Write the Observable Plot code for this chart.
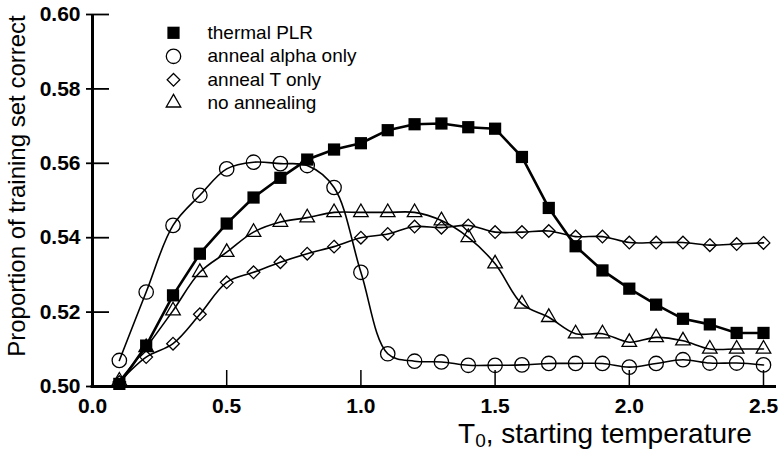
<!DOCTYPE html>
<html>
<head>
<meta charset="utf-8">
<script src="https://cdn.jsdelivr.net/npm/d3@7"></script>
<script src="https://cdn.jsdelivr.net/npm/@observablehq/plot@0.6"></script>
<style>
  body { margin: 0; background: #fff; }
  #chart svg { display: block; }
</style>
</head>
<body>
<div id="chart"></div>
<script>
// ---- data ----
const temps = [0.1,0.2,0.3,0.4,0.5,0.6,0.7,0.8,0.9,1.0,1.1,1.2,1.3,1.4,1.5,1.6,1.7,1.8,1.9,2.0,2.1,2.2,2.3,2.4,2.5];
const thermalPLR      = [0.5007,0.5110,0.5245,0.5357,0.5438,0.5508,0.5561,0.5610,0.5637,0.5654,0.5689,0.5705,0.5707,0.5697,0.5693,0.5617,0.5480,0.5377,0.5312,0.5263,0.5220,0.5182,0.5167,0.5144,0.5144];
const annealAlphaOnly = [0.5070,0.5254,0.5433,0.5514,0.5585,0.5603,0.5599,0.5594,0.5535,0.5307,0.5088,0.5068,0.5066,0.5057,0.5057,0.5058,0.5062,0.5062,0.5062,0.5052,0.5062,0.5072,0.5063,0.5063,0.5058];
const annealTOnly     = [0.5012,0.5079,0.5115,0.5194,0.5280,0.5307,0.5334,0.5357,0.5376,0.5400,0.5410,0.5430,0.5427,0.5433,0.5415,0.5415,0.5418,0.5403,0.5403,0.5387,0.5387,0.5387,0.5380,0.5383,0.5386];
const noAnnealing     = [0.5015,0.5105,0.5204,0.5307,0.5361,0.5415,0.5442,0.5454,0.5468,0.5468,0.5468,0.5468,0.5446,0.5401,0.5330,0.5222,0.5186,0.5142,0.5142,0.5119,0.5132,0.5123,0.5101,0.5101,0.5101];
const seriesNames = ["thermal PLR", "anneal alpha only", "anneal T only", "no annealing"];
const xTicks = [0.0, 0.5, 1.0, 1.5, 2.0, 2.5];
const yTicks = [0.50, 0.52, 0.54, 0.56, 0.58, 0.60];
const xLabelMain = "T", xLabelSub = "0", xLabelRest = ", starting temperature";
const yLabel = "Proportion of training set correct";

// ---- layout / styles ----
const W = 778, H = 453, mL = 92, mR = 15, mT = 14, mB = 67;
const plotW = W - mL - mR, plotH = H - mT - mB;
const font = "'Liberation Sans', Arial, Helvetica, sans-serif";

const styles = [
  {values: thermalPLR,      symbol: "square",   fill: "black", stroke: "none",  r: 6.9, lw: 2.6, curve: "linear"},
  {values: annealAlphaOnly, symbol: "circle",   fill: "none",  stroke: "black", r: 7.2, lw: 1.6, curve: "catmull-rom"},
  {values: annealTOnly,     symbol: "diamond2", fill: "none",  stroke: "black", r: 5.7, lw: 1.6, curve: "catmull-rom"},
  {values: noAnnealing,     symbol: "triangle", fill: "none",  stroke: "black", r: 5.4, lw: 1.6, curve: "catmull-rom"}
];
const rows = vals => temps.map((t, i) => ({t, v: vals[i]}));

const marks = [];
// open series first, squares last (on top)
for (const i of [3, 2, 1, 0]) {
  const s = styles[i];
  const data = rows(s.values);
  marks.push(Plot.line(data, {x: "t", y: "v", stroke: "black", strokeWidth: s.lw, curve: s.curve}));
  marks.push(Plot.dot(data, {x: "t", y: "v", symbol: () => s.symbol, r: s.r, fill: s.fill, stroke: s.stroke, strokeWidth: 1.3}));
}

// legend (inside plot, top-left)
const legendDy = [18.3, 41.8, 65.3, 88.3];
seriesNames.forEach((name, i) => {
  const s = styles[i];
  marks.push(Plot.dot([name], {frameAnchor: "top-left", dx: 81, dy: legendDy[i], symbol: () => s.symbol, r: s.r, fill: s.fill, stroke: s.stroke, strokeWidth: 1.3}));
  marks.push(Plot.text([name], {frameAnchor: "top-left", dx: 115, dy: legendDy[i], text: d => d, textAnchor: "start", lineAnchor: "middle", fontSize: 19, fill: "black"}));
});

// axes
marks.push(Plot.ruleX([0], {stroke: "black", strokeWidth: 3}));
marks.push(Plot.ruleY([0.5], {stroke: "black", strokeWidth: 3, insetLeft: -1.5, insetRight: -13}));
marks.push(Plot.tickY(yTicks, {y: d => d, stroke: "black", strokeWidth: 1.8, insetLeft: -6, insetRight: plotW - 17}));
marks.push(Plot.tickX(xTicks, {x: d => d, stroke: "black", strokeWidth: 1.5, insetTop: plotH - 16}));
marks.push(Plot.axisY(yTicks, {tickSize: 0, tickPadding: 12, tickFormat: d3.format(".2f"), fontSize: 21, fontWeight: "bold", label: null}));
marks.push(Plot.axisX(xTicks, {tickSize: 0, tickPadding: 12, tickFormat: d3.format(".1f"), fontSize: 21, fontWeight: "bold", label: null}));

// axis titles
marks.push(Plot.text([yLabel], {frameAnchor: "left", rotate: -90, dx: -75, dy: -14.5, text: d => d, fontSize: 24, textAnchor: "middle", lineAnchor: "middle", fill: "black"}));
const xLabelFull = xLabelMain + xLabelSub + xLabelRest;
marks.push(Plot.text([xLabelFull], {frameAnchor: "bottom", dx: 177, dy: 47.5, text: d => d, fontSize: 28, textAnchor: "middle", lineAnchor: "middle", fill: "black"}));

const chart = Plot.plot({
  width: W, height: H,
  marginLeft: mL, marginRight: mR, marginTop: mT, marginBottom: mB,
  x: {domain: [0, 2.5]},
  y: {domain: [0.5, 0.6]},
  style: {fontFamily: font, background: "white", color: "black", overflow: "visible"},
  marks
});

// subscript in x title
d3.select(chart).selectAll("text").filter(function() { return this.textContent === xLabelFull; }).each(function() {
  const t = d3.select(this);
  t.text(null);
  t.append("tspan").text(xLabelMain);
  t.append("tspan").attr("dy", 4).attr("font-size", 19).text(xLabelSub);
  t.append("tspan").attr("dy", -4).text(xLabelRest);
});

document.getElementById("chart").append(chart);
</script>
</body>
</html>
